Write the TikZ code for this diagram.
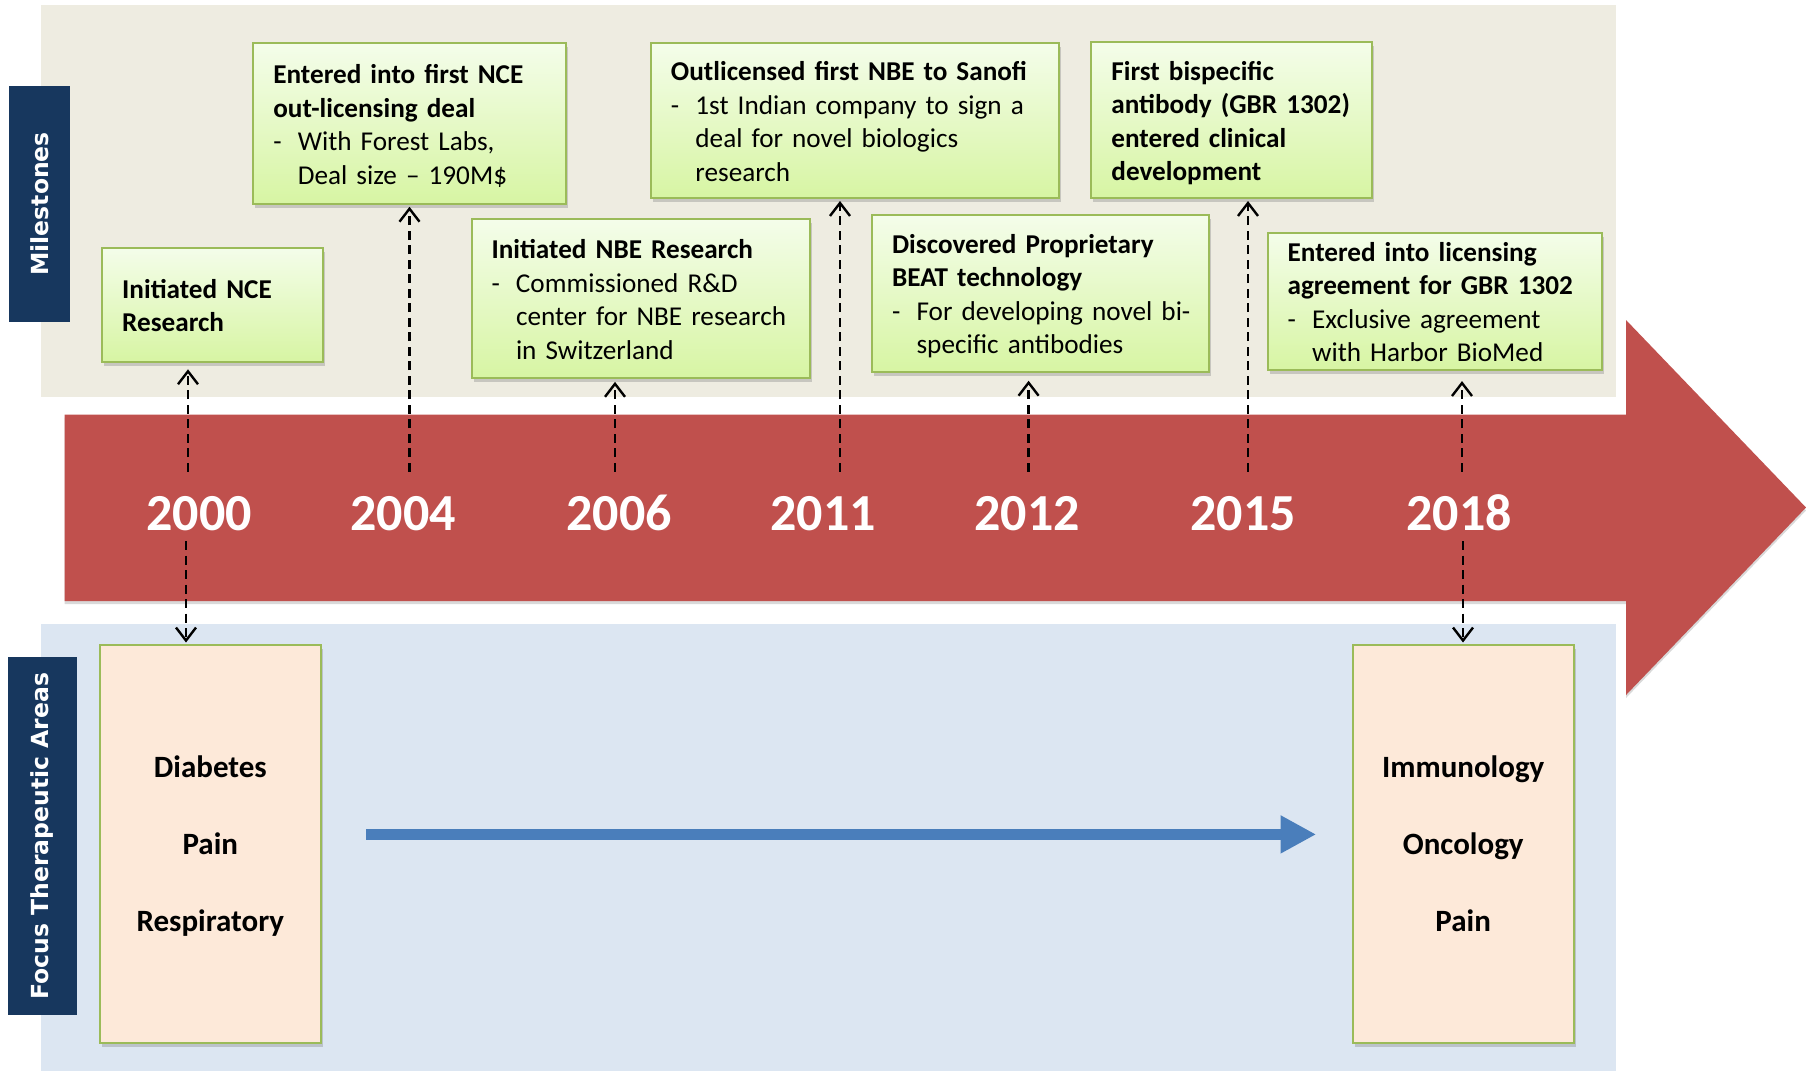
\documentclass[tikz,border=0pt]{standalone}
\usepackage{fontspec}
\setmainfont{Carlito}
\newfontfamily\lblfont{DejaVu Sans}
\usetikzlibrary{arrows.meta,shadows,calc}
\definecolor{beige}{HTML}{EEECE1}
\definecolor{paleblue}{HTML}{DCE6F2}
\definecolor{navy}{HTML}{17375E}
\definecolor{redbar}{HTML}{C0504D}
\definecolor{bluearrow}{HTML}{4A7EBB}
\definecolor{gborder}{HTML}{9BBB59}
\definecolor{gtop}{HTML}{F4FDEA}
\definecolor{gbot}{HTML}{D7F5A3}
\definecolor{peach}{HTML}{FDE9D9}
\newcommand{\dl}{\makebox[24.5pt][l]{-}}
\newcommand{\il}{\hspace*{24.5pt}}
\newcommand{\lines}[1]{\raisebox{-3.5pt}[\height][\depth]{\begin{tabular}{@{}l@{}}#1\end{tabular}}}
\newcommand{\dn}[1]{\raisebox{-3.5pt}[\height][\depth]{\rule[-7pt]{0pt}{29pt}#1}}
\tikzset{
  mbox/.style={draw=gborder, line width=2pt, top color=gtop, bottom color=gbot,
    align=left, inner xsep=20pt, inner ysep=0pt,
    font=\fontsize{27.2}{33.5}\selectfont,
    drop shadow={shadow xshift=2pt, shadow yshift=-4pt, opacity=0.35}},
  fbox/.style={draw=gborder, line width=2pt, fill=peach, align=center,
    font=\fontsize{31}{77}\selectfont\bfseries,
    drop shadow={shadow xshift=2pt, shadow yshift=-4pt, opacity=0.35}},
  lbl/.style={fill=navy, text=white, rotate=90, inner sep=0pt,
    font=\lblfont\fontsize{23.5}{28}\selectfont\bfseries},
  year/.style={text=white, inner sep=0pt, font=\fontsize{52}{60}\selectfont\bfseries},
  conn/.style={black, dash pattern=on 9pt off 5.5pt, line width=2.4pt,
    -{Straight Barb[length=13pt,width=20pt]}},
}
\begin{document}
\begin{tikzpicture}[x=1pt,y=-1pt]
\useasboundingbox (0,0) rectangle (1806,1071);
% panels
\fill[beige] (41,5) rectangle (1615.5,396.7);
\fill[paleblue] (41,624) rectangle (1615.5,1071);
% red timeline arrow
\fill[redbar, drop shadow={shadow xshift=0pt, shadow yshift=-3pt, opacity=0.3}]
  (64.5,414.5) -- (1626,414.5) -- (1626,320) -- (1806,507.5) -- (1626,695)
  -- (1626,601) -- (64.5,601) -- cycle;
% side labels
\node[lbl, minimum width=235.7pt, minimum height=60.8pt] (lm) at (39.6,203.85) {Milestones};
\node[lbl, minimum width=357.7pt, minimum height=69pt] (lf) at (42.5,836.15) {Focus Therapeutic Areas};
% milestone boxes
\node[mbox, text width=181.2pt, minimum height=114pt] (m2000) at (212.8,304.7)
  {\lines{\textbf{Initiated NCE}\\\textbf{Research}}};
\node[mbox, text width=273.1pt, minimum height=160.7pt] (m2004) at (409.9,123.7)
  {\lines{\textbf{Entered into first NCE}\\\textbf{out-licensing deal}\\\dl With Forest Labs,\\\il Deal size – 190M\$}};
\node[mbox, text width=298.6pt, minimum height=159.3pt] (m2006) at (640.8,298.7)
  {\lines{\textbf{Initiated NBE Research}\\\dl Commissioned R\&D\\\il center for NBE research\\\il in Switzerland}};
\node[mbox, text width=368.3pt, minimum height=155pt] (m2011) at (855.1,120.8)
  {\lines{\textbf{Outlicensed first NBE to Sanofi}\\\dl 1st Indian company to sign a\\\il deal for novel biologics\\\il research}};
\node[mbox, text width=296.4pt, minimum height=156.7pt] (m2012) at (1040.3,293.4)
  {\lines{\textbf{Discovered Proprietary}\\\textbf{BEAT technology}\\\dl For developing novel bi-\\\il specific antibodies}};
\node[mbox, text width=240.6pt, minimum height=156pt] (m2015) at (1231.7,120.3)
  {\lines{\textbf{First bispecific}\\\textbf{antibody (GBR 1302)}\\\textbf{entered clinical}\\\textbf{development}}};
\node[mbox, text width=294.4pt, minimum height=137.3pt] (m2018) at (1434.8,301.4)
  {\lines{\textbf{Entered into licensing}\\\textbf{agreement for GBR 1302}\\\dl Exclusive agreement\\\il with Harbor BioMed}};
% focus area boxes
\node[fbox, minimum width=220.8pt, minimum height=397.7pt] (ta) at (210.3,843.85)
  {\dn{Diabetes}\\\dn{Pain}\\\dn{Respiratory}};
\node[fbox, minimum width=221.1pt, minimum height=397.7pt] (tb) at (1463.2,843.85)
  {\dn{Immunology}\\\dn{Oncology}\\\dn{Pain}};
% years
\node[year, anchor=base] (y2000) at (199,530) {2000};
\node[year, anchor=base] (y2004) at (403,530) {2004};
\node[year, anchor=base] (y2006) at (619,530) {2006};
\node[year, anchor=base] (y2011) at (823,530) {2011};
\node[year, anchor=base] (y2012) at (1027,530) {2012};
\node[year, anchor=base] (y2015) at (1243,530) {2015};
\node[year, anchor=base] (y2018) at (1459,530) {2018};
% dashed connectors
\coordinate (u2000) at (188,471.7);
\coordinate (u2004) at (409.5,471.7);
\coordinate (u2006) at (615,471.7);
\coordinate (u2011) at (840,471.7);
\coordinate (u2012) at (1028.6,471.7);
\coordinate (u2015) at (1248,471.7);
\coordinate (u2018) at (1462,471.7);
\coordinate (l2000) at (186,541);
\coordinate (l2018) at (1463,541);
\draw[conn, shorten >=6.6pt] (u2000) -- (u2000 |- m2000.south);
\draw[conn, shorten >=1.7pt] (u2004) -- (u2004 |- m2004.south);
\draw[conn, shorten >=2.5pt] (u2006) -- (u2006 |- m2006.south);
\draw[conn, shorten >=1.7pt] (u2011) -- (u2011 |- m2011.south);
\draw[conn, shorten >=8pt] (u2012) -- (u2012 |- m2012.south);
\draw[conn, shorten >=1.7pt] (u2015) -- (u2015 |- m2015.south);
\draw[conn, shorten >=10pt] (u2018) -- (u2018 |- m2018.south);
\draw[conn, shorten >=1.5pt] (l2000) -- (l2000 |- ta.north);
\draw[conn, shorten >=1.5pt] (l2018) -- (l2018 |- tb.north);
% blue arrow
\coordinate (bs) at (366,834.4);
\draw[bluearrow, line width=11.7pt, shorten >=35.5pt,
  -{Triangle[length=35.6pt,width=35.6pt]}] (bs) -- (bs -| tb.west);
\end{tikzpicture}
\end{document}
